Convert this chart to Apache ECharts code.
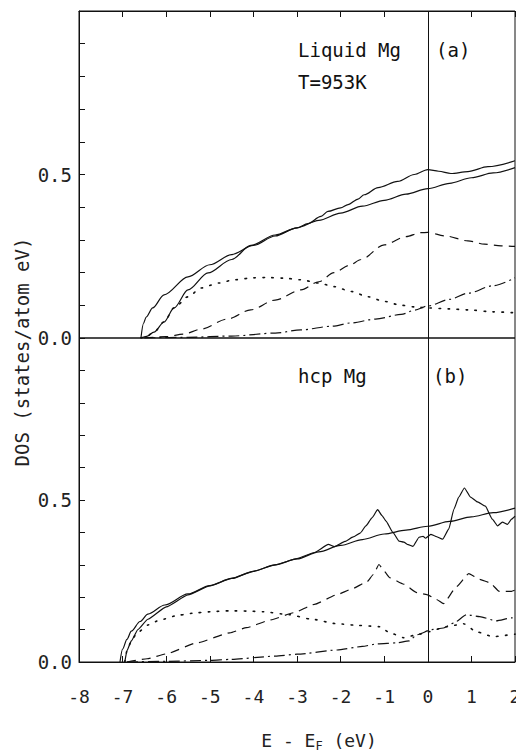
<!DOCTYPE html>
<html><head><meta charset="utf-8">
<script src="https://cdn.jsdelivr.net/npm/echarts@6/dist/echarts.min.js"></script>
<style>html,body{margin:0;padding:0;background:#fff}#c{width:516px;height:751px}</style>
</head><body><div id="c"></div>
<script>
// x axis: E - E_F (eV); y axis: DOS (states/atom eV)
const xMin = -8, xMax = 2;
const yTickLabels = ['0.0', '0.5'];

// Panel (a): Liquid Mg, T=953K
const freeA = [[-6.58,0],[-6.52,0.045],[-6.46,0.064],[-6.31,0.092],[-6.05,0.132],[-5.5,0.187],[-5.0,0.224],[-4.5,0.255],[-4.0,0.283],[-3.5,0.312],[-3.0,0.337],[-2.5,0.36],[-2.0,0.382],[-1.5,0.403],[-1.0,0.421],[-0.5,0.44],[0,0.457],[0.5,0.473],[1.0,0.49],[1.5,0.505],[2.0,0.521]];
const totalA = [[-6.58,0],[-6.45,0.005],[-6.28,0.018],[-6.05,0.049],[-5.82,0.092],[-5.5,0.147],[-5.04,0.199],[-4.5,0.24],[-4.06,0.283],[-3.5,0.315],[-3.0,0.337],[-2.75,0.35],[-2.45,0.372],[-2.29,0.387],[-2.0,0.398],[-1.83,0.408],[-1.6,0.425],[-1.46,0.438],[-1.14,0.46],[-0.69,0.479],[-0.31,0.5],[0,0.515],[0.25,0.51],[0.53,0.503],[0.92,0.509],[1.38,0.524],[2.0,0.542]];
const pA = [[-6.5,0],[-6.0,0.004],[-5.6,0.012],[-5.2,0.027],[-4.6,0.058],[-4.06,0.086],[-3.5,0.116],[-2.91,0.147],[-2.5,0.172],[-2.15,0.2],[-1.8,0.222],[-1.53,0.24],[-1.0,0.285],[-0.5,0.31],[-0.16,0.322],[0,0.323],[0.4,0.312],[0.92,0.297],[1.3,0.287],[1.68,0.282],[2.0,0.28]];
const sA = [[-6.58,0],[-6.45,0.005],[-6.28,0.018],[-6.05,0.049],[-5.82,0.092],[-5.5,0.126],[-5.2,0.153],[-4.8,0.168],[-4.44,0.178],[-4.0,0.184],[-3.67,0.185],[-3.3,0.183],[-2.91,0.178],[-2.5,0.168],[-2.15,0.157],[-1.75,0.142],[-1.37,0.126],[-1.0,0.112],[-0.61,0.10],[-0.3,0.095],[0,0.092],[0.5,0.089],[0.92,0.086],[1.5,0.08],[2.0,0.077]];
const dA = [[-6.5,0],[-5.5,0.002],[-4.5,0.006],[-3.5,0.015],[-2.91,0.025],[-2.2,0.036],[-1.76,0.046],[-1.2,0.058],[-0.61,0.072],[-0.3,0.085],[0,0.098],[0.5,0.118],[0.92,0.137],[1.5,0.16],[2.0,0.184]];

// Panel (b): hcp Mg
const freeB = [[-7.06,0],[-7.0,0.04],[-6.9,0.07],[-6.8,0.095],[-6.6,0.125],[-6.42,0.148],[-6.03,0.176],[-5.5,0.21],[-5.0,0.236],[-4.5,0.258],[-4.0,0.28],[-3.5,0.3],[-3.0,0.318],[-2.5,0.34],[-2.0,0.36],[-1.5,0.378],[-1.0,0.395],[-0.5,0.407],[0,0.419],[0.5,0.434],[1.0,0.448],[1.5,0.461],[2.0,0.475]];
const totalB = [[-6.95,0],[-6.9,0.035],[-6.8,0.065],[-6.65,0.1],[-6.42,0.132],[-6.0,0.17],[-5.5,0.207],[-5.0,0.235],[-4.5,0.258],[-4.0,0.28],[-3.5,0.3],[-3.0,0.319],[-2.6,0.338],[-2.28,0.363],[-2.14,0.356],[-1.9,0.372],[-1.71,0.386],[-1.55,0.398],[-1.42,0.42],[-1.28,0.445],[-1.15,0.47],[-1.05,0.452],[-0.96,0.435],[-0.8,0.4],[-0.66,0.373],[-0.55,0.37],[-0.45,0.362],[-0.34,0.357],[-0.2,0.385],[-0.11,0.388],[-0.05,0.382],[0.07,0.394],[0.18,0.388],[0.34,0.379],[0.48,0.41],[0.6,0.472],[0.71,0.509],[0.84,0.537],[0.98,0.509],[1.14,0.494],[1.32,0.481],[1.48,0.441],[1.6,0.42],[1.71,0.432],[1.83,0.425],[1.92,0.441],[2.0,0.45]];
const pB = [[-6.9,0],[-6.44,0.01],[-6.0,0.025],[-5.3,0.059],[-4.54,0.09],[-4.16,0.106],[-3.6,0.13],[-3.08,0.152],[-2.6,0.178],[-2.08,0.208],[-1.75,0.225],[-1.39,0.248],[-1.25,0.27],[-1.12,0.301],[-1.0,0.28],[-0.87,0.26],[-0.55,0.24],[-0.25,0.214],[-0.02,0.208],[0.2,0.193],[0.36,0.18],[0.66,0.233],[0.94,0.273],[1.19,0.255],[1.42,0.245],[1.64,0.218],[1.92,0.218],[2.0,0.222]];
const sB = [[-6.95,0],[-6.9,0.035],[-6.8,0.065],[-6.67,0.09],[-6.4,0.115],[-6.14,0.13],[-5.7,0.145],[-5.3,0.152],[-4.9,0.156],[-4.54,0.158],[-4.1,0.157],[-3.77,0.155],[-3.17,0.146],[-2.7,0.133],[-2.08,0.118],[-1.6,0.113],[-1.1,0.109],[-0.87,0.09],[-0.55,0.075],[-0.25,0.084],[0.0,0.093],[0.43,0.109],[0.82,0.118],[1.12,0.093],[1.5,0.078],[1.92,0.084],[2.0,0.086]];
const dB = [[-6.9,0],[-6.0,0.002],[-5.0,0.005],[-4.54,0.008],[-3.5,0.018],[-3.0,0.024],[-2.08,0.037],[-1.5,0.048],[-1.16,0.056],[-0.71,0.059],[-0.43,0.065],[-0.25,0.084],[0.09,0.1],[0.36,0.105],[0.59,0.12],[0.89,0.146],[1.19,0.14],[1.57,0.127],[1.92,0.136],[2.0,0.138]];

const FONT = 'DejaVu Sans Mono';
const INK = '#111';
const styles = {
  solid: {color: INK, width: 1.2, type: 'solid'},
  dashed: {color: INK, width: 1.2, type: [9, 6]},
  dotted: {color: INK, width: 1.6, type: [1.5, 7.5], cap: 'round'},
  dashdot: {color: INK, width: 1.2, type: [11, 4, 2, 4]}
};
const vline = {silent: true, symbol: ['none','none'], label: {show: false},
  lineStyle: {color: INK, width: 1, type: 'solid'}, data: [{xAxis: 0}]};

function line(data, style, idx, smooth, mark) {
  const s = {type: 'line', data: data, xAxisIndex: idx, yAxisIndex: idx, showSymbol: false,
    smooth: smooth, smoothMonotone: 'x', lineStyle: Object.assign({}, style), animation: false, z: 3};
  if (mark) s.markLine = vline;
  return s;
}

function xAxis(idx, pos, labels) {
  return {type: 'value', gridIndex: idx, position: pos, min: xMin, max: xMax, interval: 1,
    axisLine: {show: true, onZero: false, lineStyle: {color: INK, width: 1}},
    axisTick: {show: true, inside: true, length: 6, lineStyle: {color: INK}},
    splitLine: {show: false},
    axisLabel: {show: labels, interval: 1, margin: 25, color: '#222', fontFamily: FONT, fontSize: 18}};
}
function yAxis(idx) {
  return {type: 'value', gridIndex: idx, min: 0, max: 1, interval: 0.1,
    axisLine: {show: true, onZero: false, lineStyle: {color: INK, width: 1}},
    axisTick: {show: true, inside: true, length: 6, lineStyle: {color: INK}},
    splitLine: {show: false},
    axisLabel: {margin: 7, color: '#222', fontFamily: FONT, fontSize: 19,
      formatter: v => Math.abs(v) < 1e-9 ? yTickLabels[0] : (Math.abs(v - 0.5) < 1e-9 ? yTickLabels[1] : '')}};
}

const chart = echarts.init(document.getElementById('c'), null, {renderer: 'svg'});
chart.setOption({
  backgroundColor: '#fff',
  animation: false,
  grid: [
    {left: 79, top: 11, width: 436, height: 327, show: true, borderColor: INK, borderWidth: 1, containLabel: false, outerBoundsMode: 'none'},
    {left: 79, top: 338, width: 436, height: 324, show: true, borderColor: INK, borderWidth: 1, containLabel: false, outerBoundsMode: 'none'}
  ],
  xAxis: [xAxis(0, 'top', false), xAxis(1, 'bottom', true)],
  yAxis: [yAxis(0), yAxis(1)],
  series: [
    line(freeA, styles.solid, 0, 0.3, true),
    line(totalA, styles.solid, 0, 0.3),
    line(pA, styles.dashed, 0, 0.3),
    line(sA, styles.dotted, 0, 0.3),
    line(dA, styles.dashdot, 0, 0.3),
    line(freeB, styles.solid, 1, 0.3, true),
    line(totalB, styles.solid, 1, 0.15),
    line(pB, styles.dashed, 1, 0.15),
    line(sB, styles.dotted, 1, 0.2),
    line(dB, styles.dashdot, 1, 0.2)
  ],
  graphic: [
    {type: 'text', x: 298, y: 50, style: {text: 'Liquid Mg', fill: INK, font: '19px "' + FONT + '"', verticalAlign: 'middle'}},
    {type: 'text', x: 436, y: 50, style: {text: '(a)', fill: INK, font: '19px "' + FONT + '"', verticalAlign: 'middle'}},
    {type: 'text', x: 298, y: 82, style: {text: 'T=953K', fill: INK, font: '19px "' + FONT + '"', verticalAlign: 'middle'}},
    {type: 'text', x: 298, y: 376, style: {text: 'hcp Mg', fill: INK, font: '19px "' + FONT + '"', verticalAlign: 'middle'}},
    {type: 'text', x: 433, y: 376, style: {text: '(b)', fill: INK, font: '19px "' + FONT + '"', verticalAlign: 'middle'}},
    {type: 'text', x: 22, y: 352, rotation: Math.PI / 2,
      style: {text: 'DOS (states/atom eV)', x: 0, y: 0, fill: '#222', font: '19px "' + FONT + '"', align: 'center', verticalAlign: 'middle'}},
    {type: 'text', x: 319, y: 740,
      style: {text: 'E - E{s|F} (eV)', x: 0, y: 0, fill: '#222', font: '18px "' + FONT + '"', align: 'center', verticalAlign: 'middle',
        rich: {s: {fontFamily: FONT, fontSize: 12, fill: '#222', padding: [11, 0, 0, 0]}}}}
  ]
});
</script>
</body></html>
